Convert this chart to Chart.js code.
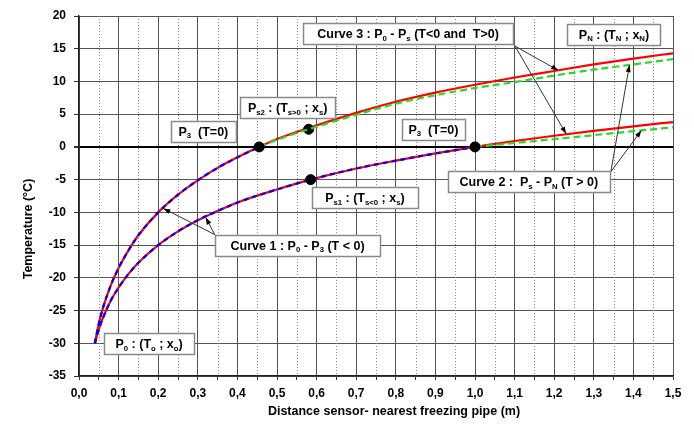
<!DOCTYPE html>
<html>
<head>
<meta charset="utf-8">
<script src="https://cdn.jsdelivr.net/npm/chart.js@4.4.0/dist/chart.umd.min.js"></script>
<style>
html, body { margin: 0; padding: 0; background: #fff; }
#wrap { width: 694px; height: 427px; }
</style>
</head>
<body>
<div id="wrap"><canvas id="chart" width="694" height="427"></canvas></div>
<script>
// ------------------------------------------------------------
// data (x = distance in m, T = temperature in °C)
// ------------------------------------------------------------
// curve 1, upper branch : P0 -> P3 (T=0) at x ~ 0.455
const c1aX = [0.04, 0.05, 0.06, 0.08, 0.10, 0.125, 0.15, 0.20, 0.25, 0.30, 0.35, 0.40, 0.455];
const c1aT = [-30, -27.0, -24.7, -21.2, -18.5, -15.8, -13.5, -10.0, -7.3, -5.1, -3.2, -1.6, 0];
// curve 1, lower branch : P0 -> P3 (T=0) at x = 1.0
const c1bX = [0.04, 0.05, 0.06, 0.08, 0.10, 0.125, 0.15, 0.20, 0.25, 0.30, 0.35, 0.40, 0.50, 0.585, 0.70, 0.80, 0.90, 1.00];
const c1bT = [-30, -27.9, -26.2, -23.5, -21.5, -19.4, -17.7, -15.0, -12.9, -11.2, -9.8, -8.5, -6.5, -5.0, -3.3, -2.1, -1.0, 0];
// curve 3 (T>0 part), red = measured, green = fitted
const c3X      = [0.455, 0.50, 0.58, 0.70, 0.80, 0.90, 1.00, 1.10, 1.20, 1.30, 1.40, 1.50];
const c3RedT   = [0, 1.2, 2.9, 5.2, 6.9, 8.3, 9.5, 10.6, 11.6, 12.6, 13.5, 14.3];
const c3GreenT = [0, 1.1, 2.7, 4.9, 6.6, 7.9, 9.0, 9.9, 10.9, 11.8, 12.6, 13.4];
// curve 2 : Ps -> PN
const c2X      = [1.0, 1.1, 1.2, 1.3, 1.4, 1.5];
const c2RedT   = [0, 0.9, 1.7, 2.45, 3.15, 3.8];
const c2GreenT = [0, 0.6, 1.2, 1.8, 2.4, 3.0];
// marked points : P3 (left), Ps2, Ps1, P3 (right)
const ptX = [0.455, 0.58, 0.585, 1.0];
const ptT = [0, 2.7, -5.0, 0];
// axes
const xMin = 0, xMax = 1.5, xStep = 0.05;
const yMin = -35, yMax = 20, yStep = 5;

const FONT = '"Liberation Sans", Arial, sans-serif';

function pts(xs, ts) {
	return xs.map(function(x, i) { return {x: x, y: ts[i]}; });
}

// text boxes (data coords of the box centre, width in px)
// parts : [text, isSubscript]
const notes = [
	{x: 0.831, y: 17.3, w: 210, parts: [['Curve 3 : P'], ['0', 1], [' - P'], ['s', 1], [' (T<0 and  T>0)']]},
	{x: 1.351, y: 17.2, w: 93,  parts: [['P'], ['N', 1], [' : (T'], ['N', 1], [' ; x'], ['N', 1], [')']]},
	{x: 0.527, y: 5.95, w: 95,  parts: [['P'], ['s2', 1], [' : (T'], ['s>0', 1], [' ; x'], ['s', 1], [')']]},
	{x: 0.314, y: 2.4,  w: 65,  parts: [['P'], ['3', 1], ['  (T=0)']]},
	{x: 0.895, y: 2.7,  w: 63,  parts: [['P'], ['3', 1], ['  (T=0)']]},
	{x: 1.136, y: -5.3, w: 162, parts: [['Curve 2 :  P'], ['s', 1], [' - P'], ['N', 1], [' (T > 0)']]},
	{x: 0.722, y: -7.8, w: 106, parts: [['P'], ['s1', 1], [' : (T'], ['s<0', 1], [' ; x'], ['s', 1], [')']]},
	{x: 0.552, y: -15.0, w: 165, parts: [['Curve 1 : P'], ['0', 1], [' - P'], ['3', 1], [' (T < 0)']]},
	{x: 0.177, y: -30.1, w: 90,  parts: [['P'], ['0', 1], [' : (T'], ['o', 1], [' ; x'], ['o', 1], [')']]}
];

// pointer lines [from, to] in data coords
const arrows = [
	[[1.101, 15.4], [1.21, 11.7]],
	[[1.101, 15.4], [1.23, 2.0]],
	[[1.343, -3.8], [1.39, 12.5]],
	[[1.343, -3.8], [1.42, 2.5]],
	[[0.343, -13.4], [0.213, -9.4]],
	[[0.343, -13.4], [0.32, -10.8]]
];

// 0.1 단위 여부
function isMajor(v) {
	return Math.round(v * 100) % 10 === 0;
}

// 주석 / 보조 눈금 / 축 제목 그리기
const notesPlugin = {
	id: 'notes',
	beforeDatasetsDraw: function(chart) {
		let ctx = chart.ctx, xs = chart.scales.x, a = chart.chartArea;
		ctx.save();
		ctx.strokeStyle = '#8c8c8c';
		ctx.lineWidth = 1;
		ctx.setLineDash([1, 2]);
		for (let v = xMin + xStep; v < xMax; v += xStep) {
			if (isMajor(v)) continue;
			let px = Math.round(xs.getPixelForValue(v)) + 0.5;
			ctx.beginPath();
			ctx.moveTo(px, a.top);
			ctx.lineTo(px, a.bottom);
			ctx.stroke();
		}
		ctx.restore();
	},
	afterDatasetsDraw: function(chart) {
		let ctx = chart.ctx, xs = chart.scales.x, ys = chart.scales.y;
		ctx.save();
		// pointers
		arrows.forEach(function(ar) {
			let x0 = xs.getPixelForValue(ar[0][0]), y0 = ys.getPixelForValue(ar[0][1]);
			let x1 = xs.getPixelForValue(ar[1][0]), y1 = ys.getPixelForValue(ar[1][1]);
			ctx.strokeStyle = '#333';
			ctx.lineWidth = 1;
			ctx.beginPath();
			ctx.moveTo(x0, y0);
			ctx.lineTo(x1, y1);
			ctx.stroke();
			let ang = Math.atan2(y1 - y0, x1 - x0);
			ctx.fillStyle = '#000';
			ctx.beginPath();
			ctx.moveTo(x1, y1);
			ctx.lineTo(x1 - 7 * Math.cos(ang) + 2.5 * Math.sin(ang), y1 - 7 * Math.sin(ang) - 2.5 * Math.cos(ang));
			ctx.lineTo(x1 - 7 * Math.cos(ang) - 2.5 * Math.sin(ang), y1 - 7 * Math.sin(ang) + 2.5 * Math.cos(ang));
			ctx.closePath();
			ctx.fill();
		});
		// boxes
		let size = 12.5;
		notes.forEach(function(n) {
			let cx = xs.getPixelForValue(n.x), cy = ys.getPixelForValue(n.y);
			let h = 21;
			let bx = Math.round(cx - n.w / 2) + 0.5, by = Math.round(cy - h / 2) + 0.5;
			ctx.fillStyle = '#fff';
			ctx.fillRect(bx, by, n.w, h);
			ctx.strokeStyle = '#8a8a8a';
			ctx.lineWidth = 1.5;
			ctx.strokeRect(bx, by, n.w, h);
			// text width
			let tw = 0;
			n.parts.forEach(function(p) {
				ctx.font = 'bold ' + (p[1] ? size * 0.62 : size) + 'px ' + FONT;
				tw += ctx.measureText(p[0]).width;
			});
			let tx = cx - tw / 2, base = cy + size * 0.36;
			ctx.fillStyle = '#000';
			ctx.textBaseline = 'alphabetic';
			ctx.textAlign = 'left';
			n.parts.forEach(function(p) {
				ctx.font = 'bold ' + (p[1] ? size * 0.62 : size) + 'px ' + FONT;
				ctx.fillText(p[0], tx, p[1] ? base + 2.5 : base);
				tx += ctx.measureText(p[0]).width;
			});
		});
		ctx.restore();
	},
	afterDraw: function(chart) {
		let ctx = chart.ctx, a = chart.chartArea;
		ctx.save();
		ctx.fillStyle = '#000';
		ctx.font = 'bold 12.5px ' + FONT;
		ctx.textAlign = 'center';
		ctx.textBaseline = 'middle';
		ctx.fillText('Distance sensor- nearest freezing pipe (m)', (a.left + a.right) / 2 + 18, 412);
		ctx.translate(29, 229);
		ctx.rotate(-Math.PI / 2);
		ctx.fillText('Temperature (°C)', 0, 0);
		ctx.restore();
	}
};

function lineSet(data, color, dash, order) {
	return {
		data: data,
		borderColor: color,
		borderWidth: 2.2,
		borderDash: dash,
		pointRadius: 0,
		fill: false,
		cubicInterpolationMode: 'monotone',
		order: order
	};
}

let dotsTop = pts([ptX[0], ptX[2], ptX[3]], [ptT[0], ptT[2], ptT[3]]);
let dotPs2  = pts([ptX[1]], [ptT[1]]);

new Chart(document.getElementById('chart'), {
	type: 'line',
	data: {
		datasets: [
			lineSet(pts(c1aX, c1aT), '#ff0000', [], 10),
			lineSet(pts(c1bX, c1bT), '#ff0000', [], 10),
			lineSet(pts(c3X, c3RedT), '#ff0000', [], 10),
			lineSet(pts(c2X, c2RedT), '#ff0000', [], 10),
			lineSet(pts(c1aX, c1aT), '#0000ff', [5, 4], 5),
			lineSet(pts(c1bX, c1bT), '#0000ff', [5, 4], 5),
			{data: dotPs2, showLine: false, pointRadius: 5, pointBackgroundColor: '#000', pointBorderColor: '#000', order: 6},
			lineSet(pts(c3X, c3GreenT), '#22dd22', [7, 4], 4),
			lineSet(pts(c2X, c2GreenT), '#22dd22', [7, 4], 4),
			{data: dotsTop, showLine: false, pointRadius: 5, pointBackgroundColor: '#000', pointBorderColor: '#000', order: 0}
		]
	},
	options: {
		responsive: false,
		animation: false,
		layout: { padding: { left: 0, right: 21, top: 16, bottom: 0 } },
		plugins: {
			legend: { display: false },
			tooltip: { enabled: false }
		},
		scales: {
			x: {
				type: 'linear',
				min: xMin,
				max: xMax,
				afterFit: function(s) { s.height = 51; },
				ticks: {
					stepSize: xStep,
					autoSkip: false,
					maxRotation: 0,
					color: '#000',
					padding: 6,
					font: { family: FONT, size: 12, weight: 'bold' },
					callback: function(v) {
						return isMajor(v) ? (Math.round(v * 10) / 10).toFixed(1).replace('.', ',') : '';
					}
				},
				grid: {
					color: function(c) { return isMajor(c.tick.value) ? '#555' : 'rgba(0,0,0,0)'; },
					tickColor: '#333',
					lineWidth: 1,
					tickLength: 4
				},
				border: { color: '#222', width: 1.5 }
			},
			y: {
				min: yMin,
				max: yMax,
				afterFit: function(s) { s.width = 79; },
				ticks: {
					stepSize: yStep,
					color: '#000',
					padding: 8,
					font: { family: FONT, size: 12, weight: 'bold' }
				},
				grid: {
					color: function(c) { return c.tick.value === 0 ? '#000' : '#555'; },
					lineWidth: function(c) { return c.tick.value === 0 ? 2 : 1; },
					tickColor: '#333',
					tickLength: 5
				},
				border: { color: '#222', width: 1.5 }
			}
		}
	},
	plugins: [notesPlugin]
});
</script>
</body>
</html>
